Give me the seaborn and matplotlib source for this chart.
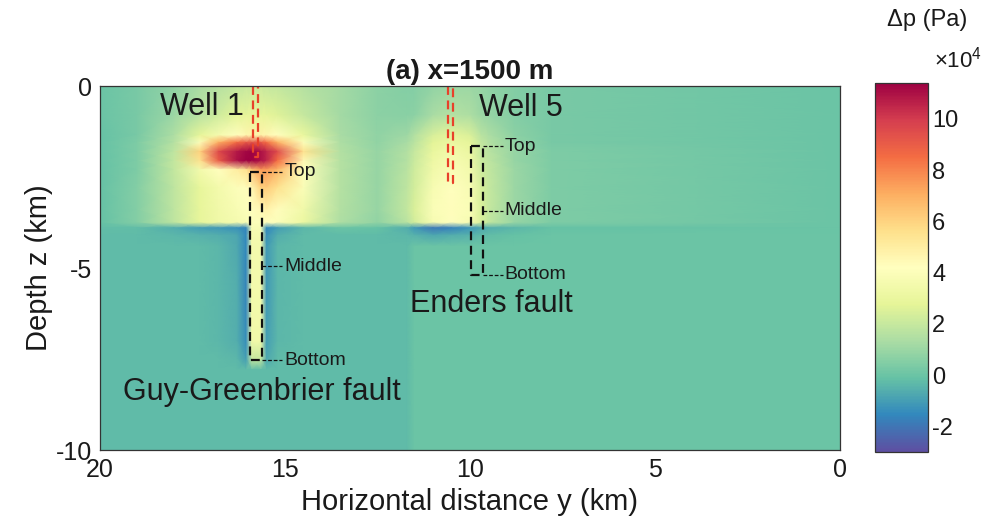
import numpy as np
import matplotlib
matplotlib.use("Agg")
import matplotlib.pyplot as plt
import seaborn as sns

# ---- data (pressure change, units of 1e4 Pa) ----
# horizontal nodes y (km), left (20) to right (0)
y_nodes = [20, 19, 18, 17.3, 16.8, 16.3, 16.05, 15.9, 15.65, 15.5, 15.2, 14.5,
           13.5, 12.5, 11.7, 11.5, 11.0, 10.5, 10.0, 9.7, 9.5, 8.8, 7.8, 0]
# depth nodes z (km)
z_nodes = [0, -0.8, -1.35, -1.55, -1.8, -2.05, -2.3, -2.8, -3.4, -3.75, -3.9, -4.1,
           -4.4, -5.5, -7.0, -7.5, -7.8, -10]
dp_rows = [
    [0.0, 0.3, 0.8, 1.3, 1.6, 1.9, 2.0, 2.1, 2.1, 2.0, 1.9, 1.6, 1.2, 0.7, 0.5, 0.5, 0.8, 1.0, 1.0, 0.9, 0.8, 0.5, 0.3, 0.0],
    [0.0, 0.3, 1.0, 1.7, 2.2, 2.7, 2.8, 2.9, 2.9, 2.8, 2.6, 2.0, 1.2, 0.7, 0.6, 0.7, 1.3, 1.6, 1.4, 1.0, 0.9, 0.5, 0.3, 0.0],
    [-0.1, 0.3, 1.4, 2.8, 3.6, 4.2, 4.6, 4.8, 4.8, 4.6, 4.2, 3.0, 1.3, 0.8, 1.1, 1.5, 2.4, 2.8, 2.5, 1.7, 1.4, 0.7, 0.3, 0.0],
    [-0.1, 0.4, 1.6, 4.0, 7.0, 8.5, 9.0, 9.2, 9.0, 8.5, 7.0, 4.0, 1.4, 0.8, 1.3, 1.7, 2.7, 3.1, 2.8, 1.9, 1.6, 0.8, 0.3, 0.0],
    [-0.1, 0.4, 1.8, 6.0, 9.5, 10.8, 11.2, 11.4, 11.0, 10.5, 9.5, 5.5, 1.5, 0.9, 1.5, 2.0, 3.0, 3.5, 3.1, 2.0, 1.7, 0.9, 0.4, 0.0],
    [-0.1, 0.4, 1.9, 5.5, 9.0, 11.0, 11.4, 11.4, 11.0, 10.5, 8.5, 4.5, 1.6, 0.9, 1.6, 2.1, 3.2, 3.7, 3.3, 2.1, 1.8, 0.9, 0.4, 0.0],
    [-0.1, 0.4, 1.9, 3.5, 4.2, 5.0, 5.5, 6.5, 7.5, 7.5, 6.8, 4.0, 1.6, 0.9, 1.7, 2.2, 3.4, 3.9, 3.5, 2.2, 1.9, 1.0, 0.4, 0.0],
    [-0.1, 0.5, 1.8, 2.9, 3.5, 4.0, 4.3, 4.5, 6.0, 6.2, 5.5, 3.9, 1.6, 0.9, 1.8, 2.3, 3.7, 4.2, 3.8, 2.4, 2.0, 1.0, 0.4, 0.0],
    [-0.1, 0.5, 1.8, 2.9, 3.4, 3.8, 4.0, 4.2, 4.5, 4.8, 4.3, 3.4, 1.5, 0.9, 1.9, 2.5, 3.9, 4.3, 3.9, 2.5, 2.0, 1.0, 0.4, 0.0],
    [-0.1, 0.5, 1.8, 2.9, 3.3, 3.6, 3.8, 4.0, 4.0, 4.2, 4.0, 3.1, 1.4, 0.8, 1.7, 2.3, 3.7, 4.1, 3.7, 2.4, 1.9, 0.9, 0.4, 0.0],
    [-0.2, -0.2, -0.6, -1.0, -1.1, -1.3, -1.6, 3.8, 3.8, -1.5, -1.0, -0.4, 0.0, -0.1, -0.6, -1.1, -1.9, -1.7, -1.2, -0.8, -0.6, -0.4, -0.1, 0.0],
    [-0.3, -0.3, -0.4, -0.5, -0.6, -0.8, -1.5, 3.6, 3.6, -1.3, -0.6, -0.3, -0.3, -0.3, -0.4, -0.5, -0.8, -0.6, -0.5, -0.3, -0.2, -0.1, 0.0, 0.0],
    [-0.3, -0.3, -0.3, -0.3, -0.4, -0.7, -1.5, 3.5, 3.5, -1.1, -0.4, -0.3, -0.3, -0.3, -0.3, 0.0, 0.0, 0.0, 0.0, 0.0, 0.0, 0.0, 0.0, 0.0],
    [-0.3, -0.3, -0.3, -0.3, -0.4, -0.6, -1.6, 3.5, 3.5, -1.1, -0.4, -0.3, -0.3, -0.3, -0.3, 0.0, 0.0, 0.0, 0.0, 0.0, 0.0, 0.0, 0.0, 0.0],
    [-0.3, -0.3, -0.3, -0.3, -0.4, -0.6, -1.4, 3.4, 3.4, -1.0, -0.4, -0.3, -0.3, -0.3, -0.3, 0.0, 0.0, 0.0, 0.0, 0.0, 0.0, 0.0, 0.0, 0.0],
    [-0.3, -0.3, -0.3, -0.3, -0.3, -0.4, -1.0, 2.0, 2.0, -0.8, -0.3, -0.3, -0.3, -0.3, -0.3, 0.0, 0.0, 0.0, 0.0, 0.0, 0.0, 0.0, 0.0, 0.0],
    [-0.3, -0.3, -0.3, -0.3, -0.3, -0.3, -0.3, -0.3, -0.3, -0.3, -0.3, -0.3, -0.3, -0.3, -0.3, 0.0, 0.0, 0.0, 0.0, 0.0, 0.0, 0.0, 0.0, 0.0],
    [-0.3, -0.3, -0.3, -0.3, -0.3, -0.3, -0.3, -0.3, -0.3, -0.3, -0.3, -0.3, -0.3, -0.3, -0.3, 0.0, 0.0, 0.0, 0.0, 0.0, 0.0, 0.0, 0.0, 0.0],
]

x_ticks = [20, 15, 10, 5, 0]
z_ticks = [0, -5, -10]
cbar_ticks = [-2, 0, 2, 4, 6, 8, 10]

well_names = ["Well 1", "Well 5"]
well_y = [(15.86, 15.73), (10.60, 10.46)]
well_bottom = [-1.95, -2.66]
well_label_pos = [(17.24, -0.58), (8.62, -0.60)]

fault_names = ["Guy-Greenbrier fault", "Enders fault"]
fault_y = [(15.95, 15.62), (9.98, 9.66)]
fault_z = [(-2.36, -7.53), (-1.65, -5.19)]
fault_label_pos = [(15.62, -8.4), (9.43, -6.0)]
marker_labels = ["Top", "Middle", "Bottom"]

# ---- style ----
sns.set_theme(style="white")
plt.rcParams['font.family'] = ['Liberation Sans', 'DejaVu Sans']
plt.rcParams['mathtext.fontset'] = 'custom'
plt.rcParams['mathtext.rm'] = 'Liberation Sans'
plt.rcParams['axes.unicode_minus'] = False
txt = '#1a1a1a'

fig = plt.figure(figsize=(9.82, 5.32), dpi=100)
ax = fig.add_axes([0.1018, 0.1541, 0.7536, 0.6842])
cax = fig.add_axes([0.891, 0.1504, 0.054, 0.6936])

cmap = sns.color_palette("Spectral_r", as_cmap=True)
Y, Z = np.meshgrid(np.array(y_nodes), np.array(z_nodes))
C = np.array(dp_rows)
mesh = ax.pcolormesh(Y, Z, C, shading='gouraud', cmap=cmap, vmin=-3, vmax=11.4,
                     rasterized=True)
ax.set_xlim(20, 0)
ax.set_ylim(-10, 0)
ax.set_xticks(x_ticks)
ax.set_yticks(z_ticks)
ax.tick_params(direction='in', length=5, width=0.8, labelsize=18, colors=txt, pad=6)
for s in ax.spines.values():
    s.set_color('#333333')
    s.set_linewidth(0.9)
ax.set_xlabel("Horizontal distance y (km)", fontsize=21, color=txt, labelpad=4)
ax.set_ylabel("Depth z (km)", fontsize=21, color=txt, labelpad=2)
ax.set_title("(a) x=1500 m", fontsize=20, fontweight='bold', color=txt, pad=5)

dash = (0, (4, 2.5))
# wells (red dashed rectangles)
for (y1, y2), zb, name, (tx, tz) in zip(well_y, well_bottom, well_names, well_label_pos):
    ax.plot([y1, y1, y2, y2], [0, zb, zb, 0], color='#e8412a', lw=1.6, linestyle=dash,
            clip_on=False)
    ax.text(tx, tz, name, fontsize=22, ha='center', va='center', color=txt)

# faults (black dashed rectangles) with Top/Middle/Bottom markers
for (y1, y2), (zt, zb), name, (tx, tz) in zip(fault_y, fault_z, fault_names, fault_label_pos):
    ax.plot([y1, y2, y2, y1, y1], [zt, zt, zb, zb, zt], color='#111111', lw=1.6,
            linestyle=dash)
    zs = [zt, (zt + zb) / 2, zb]
    for lab, zz in zip(marker_labels, zs):
        ax.plot([y2, y2 - 0.55], [zz, zz], color='#111111', lw=0.9, linestyle=(0, (3, 1.5)))
        ax.text(y2 - 0.6, zz, lab, fontsize=14, ha='left', va='center', color=txt)
    ax.text(tx, tz, name, fontsize=22, ha='center', va='center', color=txt)

# colorbar
cb = fig.colorbar(mesh, cax=cax, ticks=cbar_ticks)
cb.outline.set_edgecolor('#333333')
cb.outline.set_linewidth(0.9)
cax.tick_params(direction='in', length=4, width=0.8, labelsize=17, colors=txt, pad=3)
cax.set_yticklabels([str(t) for t in cbar_ticks])
fig.text(927 / 982, 1 - 20 / 532, "Δp (Pa)", fontsize=17, ha='center', va='center', color=txt)
fig.text(958 / 982, 1 - 60 / 532, r"$\mathregular{\times10^4}$", fontsize=16, ha='center',
         va='center', color=txt)

fig.savefig("out.png", dpi=100)
